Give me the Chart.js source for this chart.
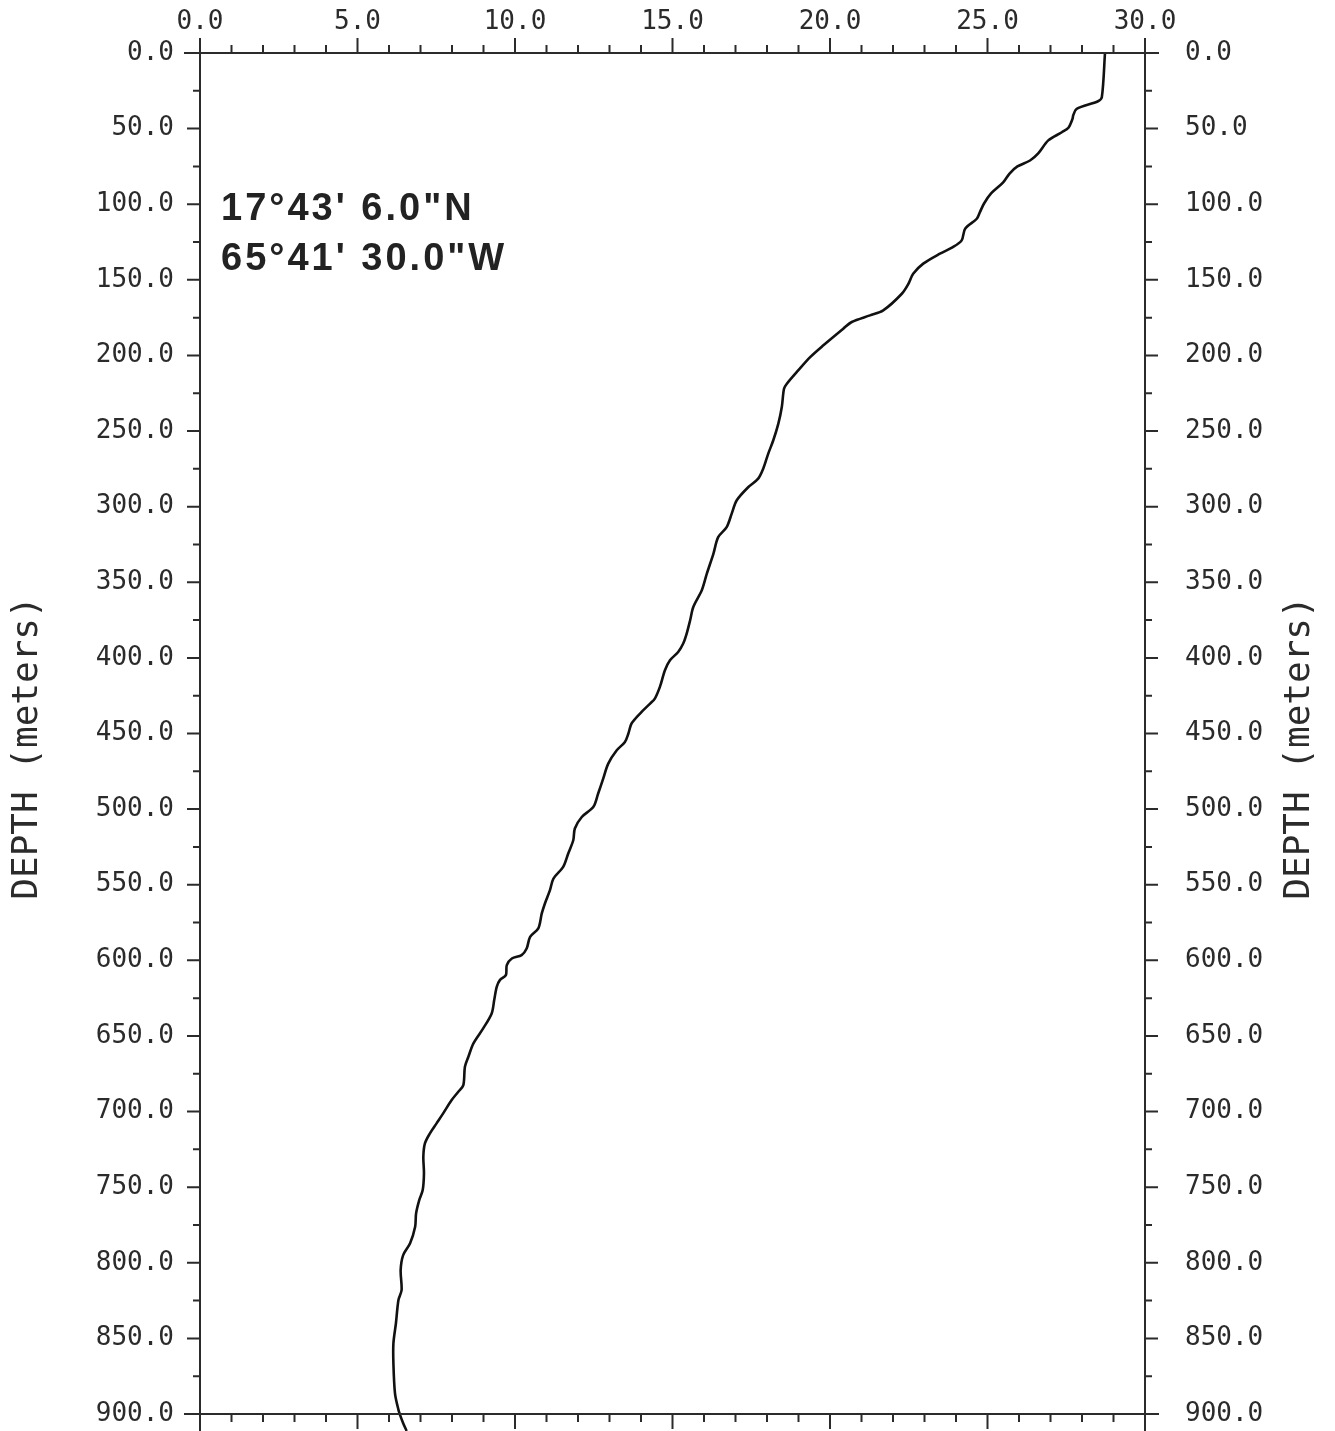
<!DOCTYPE html>
<html>
<head>
<meta charset="utf-8">
<title>Temperature profile</title>
<script src="https://cdn.jsdelivr.net/npm/chart.js@4.4.0/dist/chart.umd.min.js"></script>
<style>
  html, body { margin: 0; padding: 0; background: #fff; }
  canvas { display: block; }
</style>
</head>
<body>
<canvas id="profile" width="1335" height="1431"></canvas>
<script>
// depth (m) and temperature
const depths = [
  0, 29.2, 31.9, 36.9, 41.3, 43.5, 49.4, 52.4, 57.8, 66.4,
  71.1, 75.0, 79.7, 85.7, 92.7, 99.5, 105.2, 109.6, 116.2, 123.9,
  128.4, 132.7, 139.3, 146.0, 152.6, 159.2, 170.2, 173.5, 177.9, 182.3,
  193.3, 201.1, 209.9, 218.7, 222.0, 234.1, 245.1, 256.1, 264.9, 274.9,
  281.5, 287.0, 295.8, 304.6, 313.5, 320.1, 331.0, 344.3, 355.3, 366.3,
  375.1, 383.9, 390.5, 396.1, 401.6, 408.2, 419.2, 426.9, 430.2, 435.7,
  443.4, 450.0, 455.6, 461.1, 469.9, 479.8, 489.7, 498.5, 505.2, 512.8,
  520.6, 529.3, 538.2, 545.9, 553.6, 562.4, 569.0, 578.9, 584.5, 592.2,
  596.6, 598.8, 603.2, 609.8, 613.1, 617.5, 626.3, 635.1, 645.0, 654.9,
  663.8, 670.4, 682.5, 686.9, 692.4, 701.2, 707.8, 714.4, 721.1, 729.9,
  740.9, 751.9, 758.5, 767.3, 776.2, 787.1, 794.9, 804.8, 818.0, 824.6,
  840.0, 853.3, 866.5, 886.3, 897.3, 900.6, 906.1, 911.2
];
const temps = [
  28.73, 28.63, 28.51, 27.83, 27.72, 27.70, 27.57, 27.36, 26.93, 26.61,
  26.35, 25.95, 25.70, 25.49, 25.12, 24.89, 24.76, 24.66, 24.29, 24.18,
  23.90, 23.49, 22.96, 22.64, 22.49, 22.28, 21.69, 21.27, 20.69, 20.42,
  19.79, 19.37, 18.99, 18.63, 18.54, 18.47, 18.36, 18.20, 18.04, 17.88,
  17.72, 17.41, 17.04, 16.88, 16.72, 16.45, 16.30, 16.09, 15.93, 15.66,
  15.56, 15.45, 15.34, 15.18, 14.92, 14.76, 14.60, 14.44, 14.29, 14.02,
  13.70, 13.60, 13.49, 13.23, 12.96, 12.80, 12.64, 12.49, 12.12, 11.90,
  11.85, 11.69, 11.53, 11.22, 11.11, 10.95, 10.85, 10.74, 10.48, 10.37,
  10.21, 9.90, 9.74, 9.71, 9.52, 9.42, 9.34, 9.26, 8.99, 8.68,
  8.52, 8.41, 8.36, 8.20, 7.99, 7.72, 7.51, 7.30, 7.14, 7.09,
  7.11, 7.07, 6.96, 6.86, 6.83, 6.67, 6.45, 6.37, 6.40, 6.30,
  6.22, 6.14, 6.14, 6.19, 6.30, 6.35, 6.45, 6.56
];

// tick labels
const tempTicks = [0, 5, 10, 15, 20, 25, 30];
const depthTicks = [0, 50, 100, 150, 200, 250, 300, 350, 400, 450,
  500, 550, 600, 650, 700, 750, 800, 850, 900];

const axisTitle = "DEPTH (meters)";
const stationLines = ["17°43' 6.0\"N", "65°41' 30.0\"W"];

const monoFont = "DejaVu Sans Mono";
const ink = "#2b2b2b";

// frame, tick marks, axis titles and the station label
const framePlugin = {
  id: "frame",
  afterDraw(chart) {
    const { ctx, chartArea: a } = chart;
    const x = chart.scales.x;
    const y = chart.scales.y;
    ctx.save();
    ctx.strokeStyle = ink;
    ctx.lineWidth = 2;
    ctx.beginPath();
    // box lines run a little past the corners
    ctx.moveTo(a.left - 16, a.top);
    ctx.lineTo(a.right + 14, a.top);
    ctx.moveTo(a.left - 16, a.bottom);
    ctx.lineTo(a.right + 14, a.bottom);
    ctx.moveTo(a.left, a.top);
    ctx.lineTo(a.left, chart.height);
    ctx.moveTo(a.right, a.top);
    ctx.lineTo(a.right, chart.height);

    for (let v = 0; v <= 30; v++) {
      const px = x.getPixelForValue(v);
      const len = v % 5 === 0 ? 15 : 8;
      ctx.moveTo(px, a.top);
      ctx.lineTo(px, a.top - len);
      ctx.moveTo(px, a.bottom);
      ctx.lineTo(px, a.bottom + len);
    }
    for (let d = 0; d <= 900; d += 25) {
      const py = y.getPixelForValue(d);
      const len = d % 50 === 0 ? 13 : 7;
      ctx.moveTo(a.left, py);
      ctx.lineTo(a.left - len, py);
      ctx.moveTo(a.right, py);
      ctx.lineTo(a.right + len, py);
    }
    ctx.stroke();

    // axis titles, both read bottom to top
    ctx.fillStyle = ink;
    ctx.font = "36px " + monoFont;
    ctx.textAlign = "center";
    ctx.textBaseline = "middle";
    [28, 1300].forEach((cx) => {
      ctx.save();
      ctx.translate(cx, 748);
      ctx.rotate(-Math.PI / 2);
      ctx.fillText(axisTitle, 0, 0);
      ctx.restore();
    });

    // station position
    ctx.fillStyle = "#222";
    ctx.font = "bold 38px 'Liberation Sans'";
    ctx.textAlign = "left";
    ctx.textBaseline = "alphabetic";
    ctx.letterSpacing = "3px";
    ctx.fillText(stationLines[0], 221, 220);
    ctx.fillText(stationLines[1], 221, 270);
    ctx.restore();
  },
};

const tickFont = { family: monoFont, size: 26 };

// hidden tick marks only push the labels away from the frame
const hiddenGrid = (len) => ({ display: false, drawTicks: true, tickLength: len });

const ctx = document.getElementById("profile").getContext("2d");
const profileChart = new Chart(ctx, {
  type: "scatter",
  data: {
    datasets: [
      {
        data: depths.map((d, i) => ({ x: temps[i], y: d })),
        showLine: true,
        borderColor: "#111",
        borderWidth: 2.6,
        pointRadius: 0,
        tension: 0.3,
        clip: false,
      },
    ],
  },
  options: {
    responsive: false,
    animation: false,
    devicePixelRatio: 1,
    layout: { padding: { left: 0, right: 0, top: 0, bottom: 17 } },
    plugins: {
      legend: { display: false },
      tooltip: { enabled: false },
    },
    scales: {
      x: {
        type: "linear",
        position: "top",
        min: 0,
        max: 30,
        afterBuildTicks: (s) => { s.ticks = tempTicks.map((v) => ({ value: v })); },
        afterFit: (s) => { s.height = 53; },
        ticks: {
          font: tickFont,
          color: ink,
          padding: 0,
          maxRotation: 0,
          callback: (v) => Number(v).toFixed(1),
        },
        grid: hiddenGrid(15),
        border: { display: false },
      },
      y: {
        type: "linear",
        position: "left",
        reverse: true,
        min: 0,
        max: 900,
        afterBuildTicks: (s) => { s.ticks = depthTicks.map((v) => ({ value: v })); },
        afterFit: (s) => { s.width = 200; },
        ticks: {
          font: tickFont,
          color: ink,
          padding: 0,
          callback: (v) => Number(v).toFixed(1),
        },
        grid: hiddenGrid(26),
        border: { display: false },
      },
      y2: {
        type: "linear",
        position: "right",
        reverse: true,
        min: 0,
        max: 900,
        afterBuildTicks: (s) => { s.ticks = depthTicks.map((v) => ({ value: v })); },
        afterFit: (s) => { s.width = 190; },
        ticks: {
          font: tickFont,
          color: ink,
          padding: 0,
          callback: (v) => Number(v).toFixed(1),
        },
        grid: hiddenGrid(40),
        border: { display: false },
      },
    },
  },
  plugins: [framePlugin],
});
</script>
</body>
</html>
